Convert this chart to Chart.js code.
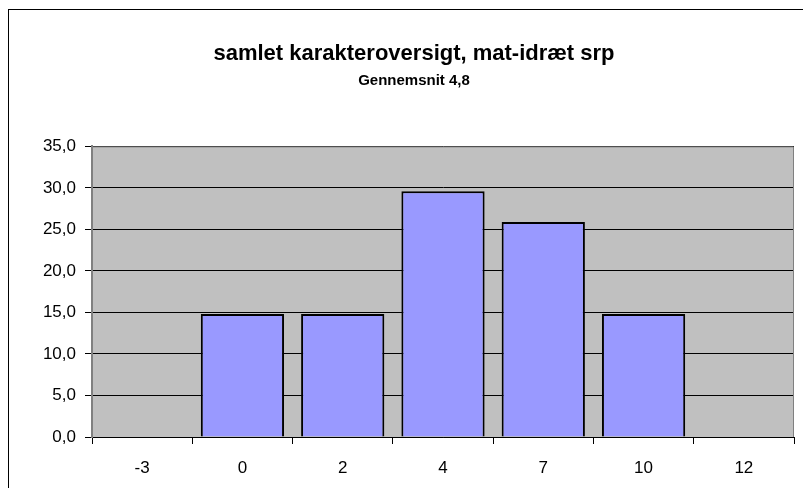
<!DOCTYPE html>
<html>
<head>
<meta charset="utf-8">
<script src="https://cdn.jsdelivr.net/npm/chart.js@4/dist/chart.umd.min.js"></script>
<style>
    html, body { margin: 0; padding: 0; background: #fff; }
    #wrap { width: 803px; height: 488px; position: relative; }
</style>
</head>
<body>
<div id="wrap"><canvas id="gradeChart" width="803" height="488"></canvas></div>
<script>
// Data
const grades = ['-3', '0', '2', '4', '7', '10', '12'];
const percents = [0, 14.8, 14.8, 29.6, 25.9, 14.8, 0];
const chartTitle = 'samlet karakteroversigt, mat-idræt srp';
const chartSubtitle = 'Gennemsnit 4,8';

const FONT = 'Liberation Sans, Arial, sans-serif';

// Gray plot background + frame + outer border, Excel style
const excelFrame = {
    id: 'excelFrame',
    beforeDraw(chart) {
        const { ctx, chartArea: a } = chart;
        ctx.save();
        ctx.fillStyle = '#fff';
        ctx.fillRect(0, 0, chart.width, chart.height);
        ctx.fillStyle = '#c0c0c0';
        ctx.fillRect(a.left, a.top, a.right - a.left, a.bottom - a.top);
        ctx.strokeStyle = '#000';
        ctx.lineWidth = 1;
        ctx.strokeRect(8.5, 9.5, chart.width, chart.height);
        ctx.restore();
    },
    afterDatasetsDraw(chart) {
        const { ctx, chartArea: a } = chart;
        ctx.save();
        ctx.strokeStyle = '#808080';
        ctx.lineWidth = 1;
        ctx.beginPath();
        ctx.moveTo(a.left, a.top + 0.5);
        ctx.lineTo(a.right - 0.5, a.top + 0.5);
        ctx.lineTo(a.right - 0.5, a.bottom);
        ctx.stroke();
        ctx.restore();
    }
};

new Chart(document.getElementById('gradeChart'), {
    type: 'bar',
    data: {
        labels: grades,
        datasets: [{
            data: percents,
            backgroundColor: '#9999ff',
            borderColor: '#000',
            borderWidth: 2,
            categoryPercentage: 1,
            barPercentage: 0.83
        }]
    },
    options: {
        responsive: false,
        animation: false,
        // left padding shifts the title centre to the right like the original
        layout: { padding: { left: 34, right: 9, top: 0, bottom: 0 } },
        plugins: {
            legend: { display: false },
            tooltip: { enabled: false },
            title: {
                display: true,
                text: chartTitle,
                color: '#000',
                font: { family: FONT, size: 22, weight: 'bold' },
                padding: { top: 41, bottom: 3 }
            },
            subtitle: {
                display: true,
                text: chartSubtitle,
                color: '#000',
                font: { family: FONT, size: 15, weight: 'bold' },
                padding: { top: 1, bottom: 57 }
            }
        },
        scales: {
            x: {
                afterFit(scale) { scale.height = 51; },
                grid: {
                    offset: true,
                    drawOnChartArea: false,
                    drawTicks: true,
                    tickLength: 7,
                    color: '#000'
                },
                border: { color: '#000', width: 1 },
                ticks: {
                    color: '#000',
                    padding: 14,
                    font: { family: FONT, size: 17 }
                }
            },
            y: {
                min: 0,
                max: 35,
                afterFit(scale) { scale.width = 58; },
                grid: {
                    color: '#000',
                    lineWidth: 1,
                    tickLength: 7
                },
                border: { color: '#808080', width: 2 },
                ticks: {
                    stepSize: 5,
                    color: '#000',
                    padding: 9,
                    font: { family: FONT, size: 17 },
                    callback: v => v.toFixed(1).replace('.', ',')
                }
            }
        }
    },
    plugins: [excelFrame]
});
</script>
</body>
</html>
